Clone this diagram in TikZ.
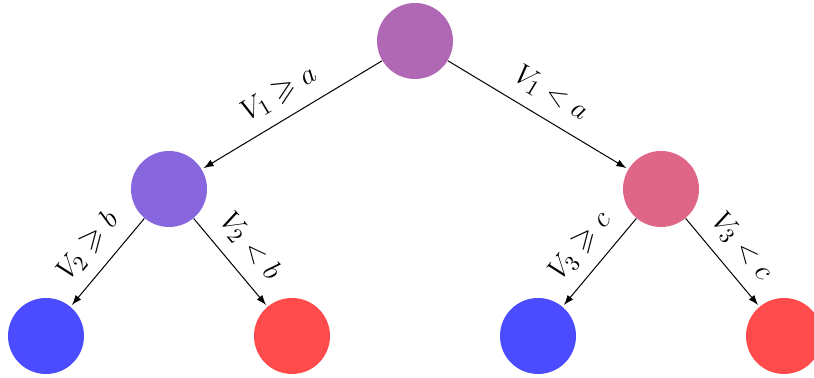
\documentclass[tikz,border=0pt]{standalone}
\usepackage{amssymb}
\usetikzlibrary{arrows.meta}
\definecolor{rootc}{HTML}{B068B4}
\definecolor{leftc}{HTML}{8866DD}
\definecolor{rightc}{HTML}{E06688}
\definecolor{bluec}{HTML}{4B4BFF}
\definecolor{redc}{HTML}{FF4B4B}
\begin{document}
\begin{tikzpicture}[x=0.5pt,y=-0.5pt,
  ball/.style={circle,minimum size=38pt,inner sep=0pt},
  edge/.style={line width=0.5pt,-{Latex[length=5pt,width=3.6pt]},shorten >=1pt},
  lab/.style={sloped,above=3pt,font=\fontsize{15}{18}\selectfont}]
\useasboundingbox (0,0) rectangle (814,378);
\node[ball,fill=rootc] (r) at (415,41) {};
\node[ball,fill=leftc] (l) at (169,189) {};
\node[ball,fill=rightc] (rr) at (661,189) {};
\node[ball,fill=bluec] (ll) at (46,336) {};
\node[ball,fill=redc] (lr) at (292,336) {};
\node[ball,fill=bluec] (rl) at (538,336) {};
\node[ball,fill=redc] (rrr) at (784,336) {};
\draw[edge] (r) -- node[lab] {$V_1 \geqslant a$} (l);
\draw[edge] (r) -- node[lab] {$V_1 < a$} (rr);
\draw[edge] (l) -- node[lab] {$V_2 \geqslant b$} (ll);
\draw[edge] (l) -- node[lab] {$V_2 < b$} (lr);
\draw[edge] (rr) -- node[lab] {$V_3 \geqslant c$} (rl);
\draw[edge] (rr) -- node[lab] {$V_3 < c$} (rrr);
\end{tikzpicture}
\end{document}
